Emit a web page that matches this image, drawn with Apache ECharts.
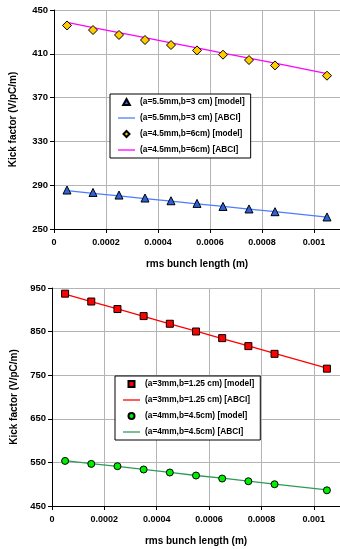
<!DOCTYPE html>
<html>
<head>
<meta charset="utf-8">
<script src="https://cdn.jsdelivr.net/npm/echarts@6/dist/echarts.min.js"></script>
<style>
  html, body { margin: 0; padding: 0; background: #fff; }
  #chart { width: 340px; height: 549px; }
</style>
</head>
<body>
<div id="chart"></div>
<script>
  // rms bunch length (m) of the sample points
  var bunchLen = [0.00005, 0.00015, 0.00025, 0.00035, 0.00045, 0.00055, 0.00065, 0.00075, 0.00085, 0.00105];

  // top panel
  var modelA55 = [285.6, 283.4, 281.0, 278.3, 275.8, 273.4, 270.6, 268.3, 265.8, 261.0];
  var abciA55 = [285.0, 282.6, 280.2, 277.8, 275.4, 273.0, 270.6, 268.2, 265.8, 260.8];
  var modelA45 = [435.9, 431.7, 427.2, 422.6, 418.0, 413.1, 409.2, 404.3, 399.4, 390.0];
  var abciA45 = [438.7, 434.0, 429.4, 424.7, 420.0, 415.4, 410.7, 406.0, 401.4, 391.8];

  // bottom panel
  var modelA3 = [937, 919, 901.7, 885.6, 868, 850.2, 835, 816.7, 799, 765];
  var abciA3 = [936, 919, 902, 885, 868, 851, 834, 817, 800, 766];
  var modelA4 = [553.4, 546.6, 541.3, 533.7, 526.8, 519.9, 513, 506.8, 499.9, 486];
  var abciA4 = [554, 547, 541, 534, 527, 520, 514, 507, 500, 487];

  var names = [
    '(a=5.5mm,b=3 cm) [model]', '(a=5.5mm,b=3 cm) [ABCI]',
    '(a=4.5mm,b=6cm) [model]', '(a=4.5mm,b=6cm) [ABCI]',
    '(a=3mm,b=1.25 cm) [model]', '(a=3mm,b=1.25 cm) [ABCI]',
    '(a=4mm,b=4.5cm) [model]', '(a=4mm,b=4.5cm) [ABCI]'
  ];

  var font = 'Liberation Sans, Arial, sans-serif';
  // legend icons (path icons keep their aspect, built-in ones get stretched)
  var icons = {
    line: 'path://M0,0L40,0L40,3L0,3Z',
    triangle: 'path://M5,0L10,9L0,9Z',
    diamond: 'path://M5,0L10,5L5,10L0,5Z',
    rect: 'path://M0,0L10,0L10,10L0,10Z',
    circle: 'path://M5,0A5,5,0,1,1,4.99,0Z'
  };

  function pairs(arr) {
    return bunchLen.map(function (x, i) { return [x, arr[i]]; });
  }

  function xAxisOf(idx) {
    return {
      type: 'value', gridIndex: idx,
      min: 0, max: 0.0011, interval: 0.0002,
      name: 'rms bunch length (m)', nameLocation: 'middle', nameGap: 30,
      nameTextStyle: { fontFamily: font, fontSize: 10, fontWeight: 'bold', color: '#000' },
      axisLine: { show: true, onZero: false, lineStyle: { color: '#000', width: 1 } },
      axisTick: { show: true, length: 4, lineStyle: { color: '#000' } },
      axisLabel: { fontFamily: font, fontSize: 9, fontWeight: 'bold', color: '#000', margin: 9, showMaxLabel: false },
      splitLine: { show: true, lineStyle: { color: '#b4b4b4', width: 1 } }
    };
  }

  function yAxisOf(idx, min, max, step, gap) {
    return {
      type: 'value', gridIndex: idx,
      min: min, max: max, interval: step,
      name: 'Kick factor (V/pC/m)', nameLocation: 'middle', nameGap: gap,
      nameTextStyle: { fontFamily: font, fontSize: 10, fontWeight: 'bold', color: '#000' },
      axisLine: { show: true, lineStyle: { color: '#000', width: 1 } },
      axisTick: { show: true, length: 4, lineStyle: { color: '#000' } },
      axisLabel: { fontFamily: font, fontSize: 9.5, fontWeight: 'bold', color: '#000', margin: 6 },
      splitLine: { show: true, lineStyle: { color: '#b4b4b4', width: 1 } }
    };
  }

  function lineSeries(name, idx, arr, color) {
    return {
      name: name, type: 'line', xAxisIndex: idx, yAxisIndex: idx,
      data: pairs(arr), symbol: 'none', z: 2,
      lineStyle: { color: color, width: 1.3 },
      itemStyle: { color: color }
    };
  }

  function markSeries(name, idx, arr, symbol, size, color) {
    return {
      name: name, type: 'scatter', xAxisIndex: idx, yAxisIndex: idx,
      data: pairs(arr), symbol: symbol, symbolSize: size, z: 3,
      itemStyle: { color: color, borderColor: '#000', borderWidth: 1, opacity: 1 }
    };
  }

  function legendOf(left, top, first, markA, markB) {
    return {
      orient: 'vertical', left: left, top: top,
      data: [
        { name: names[first], icon: icons[markA] },
        { name: names[first + 1], icon: icons.line },
        { name: names[first + 2], icon: icons[markB] },
        { name: names[first + 3], icon: icons.line }
      ],
      padding: [4, 6, 4, 8],
      itemGap: 8, itemWidth: 17, itemHeight: 6,
      symbolKeepAspect: true,
      backgroundColor: '#fff', borderColor: '#000', borderWidth: 1, borderRadius: 0,
      textStyle: { fontFamily: font, fontSize: 8.3, fontWeight: 'bold', color: '#000' },
      selectedMode: false
    };
  }

  var chart = echarts.init(document.getElementById('chart'), null, { renderer: 'canvas' });
  chart.setOption({
    animation: false,
    backgroundColor: '#fff',
    grid: [
      { left: 54, top: 10, right: -1, height: 219 },
      { left: 52, top: 288, right: -2, height: 218 }
    ],
    xAxis: [xAxisOf(0), xAxisOf(1)],
    yAxis: [yAxisOf(0, 250, 450, 40, 36), yAxisOf(1, 450, 950, 100, 33)],
    legend: [
      legendOf(110, 94, 0, 'triangle', 'diamond'),
      legendOf(115, 376, 4, 'rect', 'circle')
    ],
    series: [
      markSeries(names[0], 0, modelA55, 'triangle', 8, '#2f62d8'),
      lineSeries(names[1], 0, abciA55, '#4d7cff'),
      markSeries(names[2], 0, modelA45, 'diamond', 9, '#ffcc00'),
      lineSeries(names[3], 0, abciA45, '#ff00ff'),
      markSeries(names[4], 1, modelA3, 'rect', 7, '#ff0000'),
      lineSeries(names[5], 1, abciA3, '#ff0000'),
      markSeries(names[6], 1, modelA4, 'circle', 7, '#00ee00'),
      lineSeries(names[7], 1, abciA4, '#2e9a5a')
    ]
  });
  window.addEventListener('resize', function () {
    chart.resize();
  });
</script>
</body>
</html>
